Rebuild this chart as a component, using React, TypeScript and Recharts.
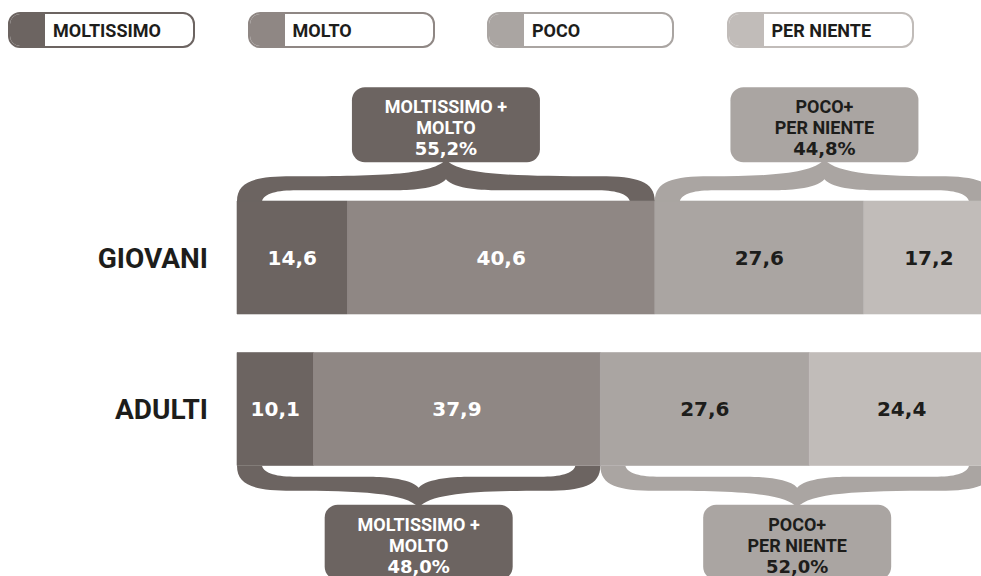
import React from 'react';
import {
  BarChart,
  Bar,
  XAxis,
  YAxis,
  Legend,
  LabelList,
  ReferenceArea,
} from 'recharts';

const categories = ['GIOVANI', 'ADULTI'];
const moltissimo = [14.6, 10.1];
const molto = [40.6, 37.9];
const poco = [27.6, 27.6];
const perNiente = [17.2, 24.4];

const seriesNames = ['MOLTISSIMO', 'MOLTO', 'POCO', 'PER NIENTE'];
const seriesColors = ['#6c6461', '#8f8784', '#aaa5a2', '#c1bcb9'];
const labelColors = ['#ffffff', '#ffffff', '#1d1d1b', '#1d1d1b'];

// braces: first group = moltissimo + molto, second = poco + per niente
const groupTitles = [
  ['MOLTISSIMO +', 'MOLTO'],
  ['POCO+', 'PER NIENTE'],
];
const groupColors = ['#6c6461', '#aaa5a2'];
const groupTextColors = ['#ffffff', '#1d1d1b'];
const bracePlacement = ['above', 'below'];

const BAR_SIZE = 113;
const BOX_W = 188;
const BOX_H = 75;
const TEXT_FONT = 'Roboto, sans-serif';
const NUM_FONT = '"DejaVu Sans", sans-serif';

const data = categories.map((cat, i) => ({
  cat,
  moltissimo: moltissimo[i],
  molto: molto[i],
  poco: poco[i],
  perNiente: perNiente[i],
}));

const keys = ['moltissimo', 'molto', 'poco', 'perNiente'];

const fmt = (v: number) => v.toFixed(1).replace('.', ',');

function bracePath(xL: number, xR: number, yb: number, s: number) {
  const Y = (d: number) => yb + s * d;
  const cx = (xL + xR) / 2;
  return [
    `M${xL},${Y(0)}`,
    `C${xL},${Y(20)} ${xL + 18},${Y(25)} ${xL + 55},${Y(25)}`,
    `C${cx - 60},${Y(25)} ${cx - 12},${Y(27)} ${cx},${Y(42)}`,
    `C${cx + 12},${Y(27)} ${cx + 60},${Y(25)} ${xR - 55},${Y(25)}`,
    `C${xR - 18},${Y(25)} ${xR},${Y(20)} ${xR},${Y(0)}`,
    `L${xR - 25},${Y(0)}`,
    `C${xR - 27},${Y(8)} ${xR - 40},${Y(11)} ${xR - 60},${Y(11)}`,
    `L${cx + 50},${Y(11)}`,
    `C${cx + 40},${Y(11)} ${cx + 8},${Y(12)} ${cx},${Y(22)}`,
    `C${cx - 8},${Y(12)} ${cx - 40},${Y(11)} ${cx - 50},${Y(11)}`,
    `L${xL + 60},${Y(11)}`,
    `C${xL + 40},${Y(11)} ${xL + 27},${Y(8)} ${xL + 25},${Y(0)}`,
    'Z',
  ].join(' ');
}

function makeBrace(group: number, catIndex: number, total: number) {
  return (props: any) => {
    const { x, y, width, height } = props;
    const s = bracePlacement[catIndex] === 'above' ? -1 : 1;
    const cy = y + height / 2;
    const yb = cy + (s * BAR_SIZE) / 2;
    const cx = x + width / 2;
    const boxTop = s < 0 ? yb - 39 - BOX_H : yb + 39;
    const lines = [...groupTitles[group]];
    const color = groupColors[group];
    const textColor = groupTextColors[group];
    return (
      <g>
        <path d={bracePath(x, x + width, yb, s)} fill={color} />
        <rect x={cx - BOX_W / 2} y={boxTop} width={BOX_W} height={BOX_H} rx={13} fill={color} />
        {lines.map((t, i) => (
          <text
            key={t}
            x={cx}
            y={boxTop + 26 + i * 21}
            textAnchor="middle"
            fill={textColor}
            fontFamily={TEXT_FONT}
            fontWeight={700}
            fontSize={18}
          >
            {t}
          </text>
        ))}
        <text
          x={cx}
          y={boxTop + 68}
          textAnchor="middle"
          fill={textColor}
          fontFamily={NUM_FONT}
          fontWeight={700}
          fontSize={18}
        >
          {fmt(total)}%
        </text>
      </g>
    );
  };
}

// legend pills, in series order
function LegendPills() {
  return (
    <div style={{ display: 'flex' }}>
      {seriesNames.map((name, i) => (
        <div
          key={name}
          style={{
            width: 187,
            height: 36,
            boxSizing: 'border-box',
            border: `2px solid ${seriesColors[i]}`,
            borderRadius: 12,
            display: 'flex',
            overflow: 'hidden',
            marginRight: 52.5,
            background: '#fff',
          }}
        >
          <div style={{ width: 35, background: seriesColors[i] }} />
          <div
            style={{
              paddingLeft: 8,
              lineHeight: '33px',
              fontFamily: TEXT_FONT,
              fontWeight: 700,
              fontSize: 18,
              color: '#1d1d1b',
            }}
          >
            {name}
          </div>
        </div>
      ))}
    </div>
  );
}

export default function App() {
  const braces = categories.flatMap((cat, i) => {
    const first = moltissimo[i] + molto[i];
    const second = poco[i] + perNiente[i];
    return [
      <ReferenceArea
        key={`${cat}-a`}
        x1={0}
        x2={first}
        y1={cat}
        y2={cat}
        ifOverflow="visible"
        shape={makeBrace(0, i, first)}
      />,
      <ReferenceArea
        key={`${cat}-b`}
        x1={first}
        x2={first + second}
        y1={cat}
        y2={cat}
        ifOverflow="visible"
        shape={makeBrace(1, i, second)}
      />,
    ];
  });

  return (
    <div
      style={{
        position: 'absolute',
        left: 0,
        top: 0,
        width: 981,
        height: 576,
        overflow: 'hidden',
        background: '#fff',
      }}
    >
      <BarChart
        width={1000}
        height={576}
        data={data}
        layout="vertical"
        margin={{ top: 182, right: 6, bottom: 91, left: 0 }}
        barSize={BAR_SIZE}
      >
        <XAxis type="number" domain={[0, 100]} hide />
        <YAxis
          type="category"
          dataKey="cat"
          width={237}
          axisLine={false}
          tickLine={false}
          tickSize={0}
          tickMargin={29}
          tick={{ fill: '#1d1d1b', fontSize: 28, fontWeight: 700, fontFamily: TEXT_FONT }}
        />
        <Legend
          verticalAlign="middle"
          align="center"
          layout="horizontal"
          wrapperStyle={{ top: 12, left: 8, width: 981 }}
          content={<LegendPills />}
        />
        {keys.map((k, i) => (
          <Bar
            key={k}
            dataKey={k}
            name={seriesNames[i]}
            stackId="a"
            fill={seriesColors[i]}
            stroke={seriesColors[i]}
            strokeWidth={0.6}
            isAnimationActive={false}
          >
            <LabelList
              dataKey={k}
              position="center"
              formatter={(v: any) => fmt(Number(v))}
              fill={labelColors[i]}
              style={{ fontFamily: NUM_FONT, fontWeight: 700, fontSize: 20 }}
            />
          </Bar>
        ))}
        {braces}
      </BarChart>
    </div>
  );
}
